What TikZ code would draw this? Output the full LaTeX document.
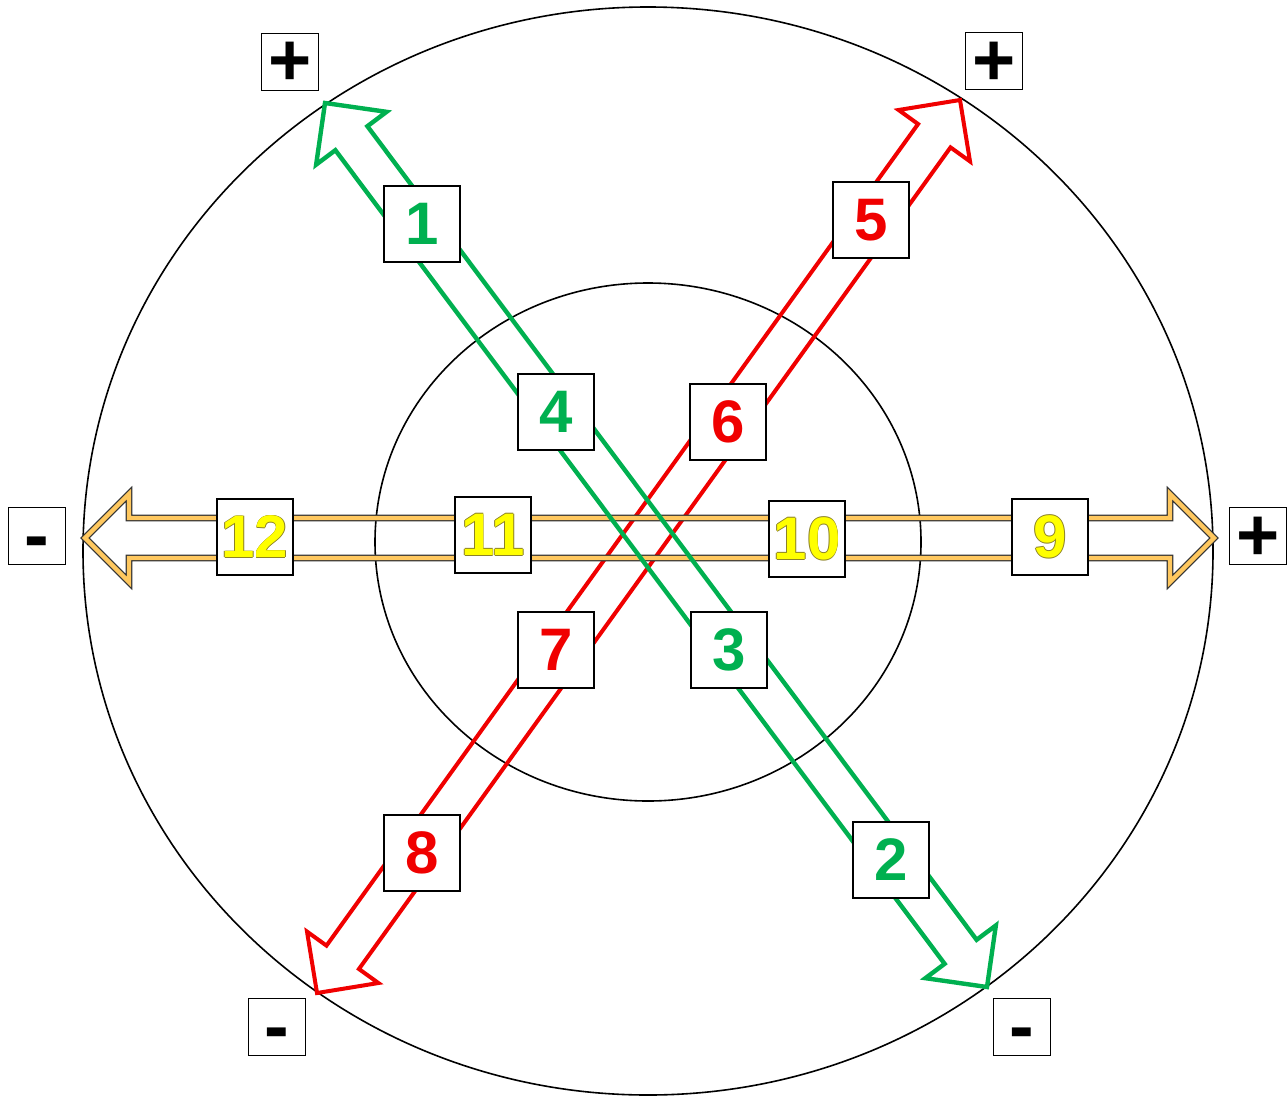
\documentclass[tikz,border=0pt]{standalone}
\usepackage{fontspec}
\setmainfont{Liberation Sans}
\usetikzlibrary{calc}
\definecolor{ArrowGreen}{RGB}{0,176,80}
\definecolor{ArrowRed}{RGB}{240,0,0}
\definecolor{ArrowGold}{RGB}{255,200,95}
\definecolor{NumYellow}{RGB}{255,255,0}
\definecolor{RimOlive}{RGB}{140,130,40}

% hollow double-headed arrow between two named points
\newcommand\hollowarrow[3][]{%
  \draw[#1] (#2)
    -- ($(#2)!22pt!(#3)!22pt!90:(#3)$)
    -- ($(#2)!22pt!(#3)!10pt!90:(#3)$)
    -- ($(#3)!22pt!(#2)!10pt!-90:(#2)$)
    -- ($(#3)!22pt!(#2)!22pt!-90:(#2)$)
    -- (#3)
    -- ($(#3)!22pt!(#2)!22pt!90:(#2)$)
    -- ($(#3)!22pt!(#2)!10pt!90:(#2)$)
    -- ($(#2)!22pt!(#3)!10pt!-90:(#3)$)
    -- ($(#2)!22pt!(#3)!22pt!-90:(#3)$)
    -- cycle;}
% digits with a thin dark rim
\newcommand\rimtext[1]{%
  \makebox[0pt][l]{\color{RimOlive}%
    \makebox[0pt][l]{\kern.35pt#1}%
    \makebox[0pt][l]{\kern-.35pt#1}%
    \makebox[0pt][l]{\raisebox{.35pt}{#1}}%
    \makebox[0pt][l]{\raisebox{-.35pt}{#1}}}%
  #1}

\begin{document}
\begin{tikzpicture}[x=0.5pt,y=-0.5pt,line join=miter,
    numbox/.style={draw,line width=1pt,fill=white,minimum size=38pt,
      inner sep=0pt,font=\fontsize{30}{36}\selectfont\bfseries},
    signbox/.style={draw,line width=0.8pt,fill=white,minimum size=28.5pt,
      inner sep=0pt,text height=24pt,text depth=0pt,
      font=\fontsize{37}{44}\selectfont\bfseries},
    greenarrow/.style={draw=ArrowGreen,line width=2.2pt},
    redarrow/.style={draw=ArrowRed,line width=2pt},
    goldarrow/.style={draw=black!80,line width=0.6pt,double=ArrowGold,
      double distance=2.2pt}]
  \useasboundingbox (0,0) rectangle (1288,1097);
  \draw[line width=0.8pt] (648,551) ellipse [x radius=565,y radius=544];
  \draw[line width=0.8pt] (648,542) ellipse [x radius=273,y radius=259];
  % arrow tips on the outer ring
  \coordinate (gA) at (325,103);
  \coordinate (gB) at (987,987);
  \coordinate (rA) at (960,100);
  \coordinate (rB) at (317,993);
  \coordinate (yA) at (85,538);
  \coordinate (yB) at (1214,538);
  \hollowarrow[redarrow]{rB}{rA}
  \hollowarrow[goldarrow]{yA}{yB}
  \hollowarrow[greenarrow]{gA}{gB}
  % numbered boxes
  \node[numbox,text=ArrowGreen] (n1) at (422,224) {1};
  \node[numbox,text=ArrowGreen] (n2) at (891,860) {2};
  \node[numbox,text=ArrowGreen] (n3) at (729,650) {3};
  \node[numbox,text=ArrowGreen] (n4) at (556,412) {4};
  \node[numbox,text=ArrowRed] (n5) at (871,220) {5};
  \node[numbox,text=ArrowRed] (n6) at (728,422) {6};
  \node[numbox,text=ArrowRed] (n7) at (556,650) {7};
  \node[numbox,text=ArrowRed] (n8) at (422,853) {8};
  \node[numbox,text=NumYellow] (n9) at (1050,537) {\rimtext{9}};
  \node[numbox,text=NumYellow] (n10) at (807,539) {\rimtext{10}};
  \node[numbox,text=NumYellow] (n11) at (493,535) {\rimtext{11}};
  \node[numbox,text=NumYellow] (n12) at (255,537) {\rimtext{12}};
  % poles
  \node[signbox] (pTL) at (290,62) {+};
  \node[signbox] (pTR) at (994,61) {+};
  \node[signbox] (pR) at (1258,536) {+};
  \node[signbox] (mL) at (37,536) {-};
  \node[signbox] (mBL) at (277,1027) {-};
  \node[signbox] (mBR) at (1022,1027) {-};
\end{tikzpicture}
\end{document}
